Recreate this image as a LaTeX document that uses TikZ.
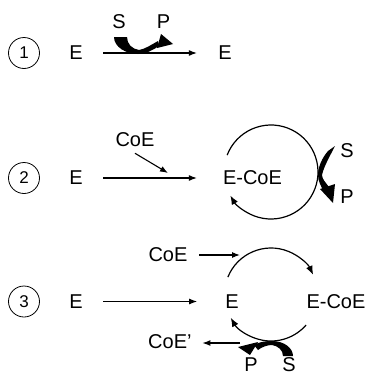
\documentclass[tikz,border=0pt]{standalone}
\usepackage{fontspec}
\setmainfont{Liberation Sans}
\usetikzlibrary{arrows.meta}

\tikzset{
  lbl/.style={inner sep=0pt, font=\fontsize{20}{24}\selectfont},
  num/.style={circle, draw, line width=0.8pt, minimum size=31pt, inner sep=0pt,
              font=\fontsize{17}{20}\selectfont},
  arr/.style={line width=1.1pt, -{Latex[length=8pt,width=6pt]}},
  cyc/.style={line width=1.2pt, -{Latex[length=9pt,width=7pt]}},
  band/.style={fill=black, draw=none},
}

\begin{document}
\begin{tikzpicture}[x=1pt, y=-1pt]
\useasboundingbox (0,0) rectangle (372,375);

% ---------- scheme 1 ----------
\node[num] (n1) at (24,53) {1};
\node[lbl] (e1)  at (76,53)  {E};
\node[lbl] (e1r) at (225,53) {E};
\node[lbl] (s1)  at (119,22) {S};
\node[lbl] (p1)  at (163.5,22) {P};
\draw[arr, shorten <=20.3pt, shorten >=21.3pt] (e1) -- (e1r);
% substrate in, product out
\path[band] (114,37) .. controls (114,47) and (126,54) .. (138,54)
   .. controls (146,54) and (153,50) .. (159,46) -- (158,41)
   .. controls (151,45) and (145,49) .. (139,50)
   .. controls (132,49) and (127,44) .. (127,37) -- cycle;
\path[band] (161,34) -- (173,44) -- (157,48) -- cycle;

% ---------- scheme 2 ----------
\node[num] (n2) at (24,178) {2};
\node[lbl] (e2)  at (76,178)  {E};
\node[lbl] (ec2) at (252.5,178) {E-CoE};
\node[lbl] (co2) at (135,140) {CoE};
\node[lbl] (s2)  at (347,151) {S};
\node[lbl] (p2)  at (347,197) {P};
\coordinate (j2) at (168,173);
\draw[arr, shorten <=20.3pt, shorten >=26pt] (e2) -- (ec2);
\draw[arr] (co2.south) ++(0,6) -- (j2);
\draw[cyc] (271,172) ++(-159:47) arc[start angle=-159, end angle=150, radius=47];
\path[band] (328,151) .. controls (322,158) and (318,167) .. (318,175)
   .. controls (318,181) and (321,186) .. (323,190) -- (329,187)
   .. controls (326,183) and (322,179) .. (322,175)
   .. controls (324,166) and (330,156) .. (335,146) -- cycle;
\path[band] (320,189) -- (335,184) -- (333,203) -- cycle;

% ---------- scheme 3 ----------
\node[num] (n3) at (24,301.5) {3};
\node[lbl] (e3)  at (76,301.5)  {E};
\node[lbl] (e3c) at (232,301.5) {E};
\node[lbl] (ec3) at (336,301.5) {E-CoE};
\node[lbl] (co3) at (168,255) {CoE};
\node[lbl, anchor=west] (cop) at (148,341.5) {CoE’};
\node[lbl] (p3)  at (251,364.5) {P};
\node[lbl] (s3)  at (289,364.5) {S};
\coordinate (c3t) at (240,255);
\coordinate (c3p) at (240,343);
\draw[arr, shorten <=20.3pt, shorten >=28pt] (e3) -- (e3c);
\draw[arr, shorten <=11.5pt] (co3) -- (c3t);
\draw[arr, shorten >=10.7pt] (c3p) -- (c3p -| cop.east);
\draw[cyc] (271,294.5) ++(-158:46.5) arc[start angle=-158, end angle=-25, radius=46.5];
\draw[cyc] (271,294.5) ++(41:46.5) arc[start angle=41, end angle=150, radius=46.5];
\path[band] (293,356) .. controls (293,348) and (284,341) .. (272,341)
   .. controls (265,341) and (259,342) .. (254,345) -- (258,350)
   .. controls (262,347) and (267,345) .. (272,345)
   .. controls (278,346) and (283,350) .. (283,356) -- cycle;
\path[band] (258,342) -- (238,347) -- (250,355) -- cycle;
\end{tikzpicture}
\end{document}
